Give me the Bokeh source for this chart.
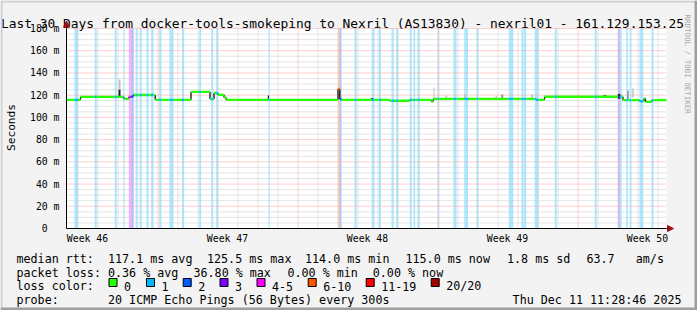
import math
from bisect import bisect_right
from bokeh.plotting import figure
from bokeh.models import Range1d, FixedTicker, Arrow, NormalHead
from bokeh.core.properties import value
from bokeh.embed import file_html
from bokeh.resources import INLINE

# ---------------- data ----------------
# time axis: days since the start of the 30 day window
t_end = 30.0
# median RTT (ms); each value holds from its start time
med_t = [0.0, 0.70, 2.865, 3.115, 3.325, 4.435, 6.225, 7.175, 7.375, 7.575, 7.875, 7.985,
         13.575, 13.665, 13.75, 16.15, 17.15, 18.235, 18.335, 23.475, 23.90,
         27.825, 28.65, 28.875, 28.95, 29.275]
med_v = [115.8, 118.5, 116.7, 118.5, 120.2, 115.8, 123.0, 116.5, 122.0, 120.3, 118.0, 115.8,
         125.5, 116.5, 115.8, 115.0, 115.8, 114.2, 116.7, 115.8, 118.6,
         115.5, 114.6, 117.0, 114.0, 115.5]
# packet loss periods and their loss class (lost pings out of 20)
loss_t0 = [0.400, 1.415, 2.415, 2.840, 3.115, 3.230, 3.460, 3.665, 4.000, 4.230,
           4.630, 5.150, 5.775, 6.630, 7.235, 7.485, 10.100, 13.575, 13.665, 14.400,
           15.265, 15.615, 16.250, 16.485, 17.165, 17.350, 17.565, 18.565, 19.350, 19.890,
           20.500, 22.115, 22.750, 22.880, 23.410, 24.415, 26.415, 27.575, 27.660, 27.985,
           28.160, 28.650, 29.250]
loss_t1 = [0.575, 1.515, 2.515, 2.900, 3.230, 3.365, 3.540, 3.765, 4.100, 4.350,
           4.750, 5.350, 5.880, 6.730, 7.335, 7.585, 10.165, 13.665, 13.750, 14.510,
           15.400, 15.725, 16.365, 16.585, 17.265, 17.435, 17.665, 18.640, 19.500, 20.075,
           20.590, 22.340, 22.860, 22.985, 23.610, 24.515, 26.515, 27.660, 27.760, 28.065,
           28.250, 28.840, 29.350]
loss_cls = [1, 1, 1, 1, 5, 2, 1, 1, 1, 1,
            1, 1, 1, 1, 1, 1, 1, 10, 2, 1,
            1, 1, 1, 1, 1, 1, 1, 1, 1, 1,
            1, 1, 1, 1, 1, 1, 1, 3, 1, 1,
            1, 1, 1]
# ping spread ("smoke") sticking out of the median line; density 1 = sparse .. 3 = dense
smoke_t0 = [2.60, 2.60, 10.065, 15.235, 18.35, 18.95, 19.875, 21.45, 21.735, 23.235,
            26.835, 27.565, 28.035, 28.285]
smoke_t1 = [2.70, 2.70, 10.125, 15.335, 18.40, 19.035, 19.975, 21.535, 21.835, 23.335,
            27.0, 27.70, 28.115, 28.365]
smoke_lo = [118.5, 125.0, 116.0, 116.0, 116.7, 117.0, 117.0, 117.0, 117.0, 117.0,
            118.6, 116.7, 115.0, 118.0]
smoke_hi = [125.0, 134.0, 119.7, 117.5, 127.0, 119.7, 121.0, 119.0, 120.5, 120.5,
            120.0, 121.0, 124.0, 126.0]
smoke_den = [3, 1, 3, 3, 1, 1, 1, 1, 2, 1, 3, 3, 2, 1]

week_ticks = [1.05, 8.05, 15.05, 22.05, 29.05]
week_labels = ["Week 46", "Week 47", "Week 48", "Week 49", "Week 50"]
week_lines = [4.575, 11.575, 18.575, 25.575]
day_lines = [0.575, 1.575, 2.575, 3.575, 5.575, 6.575, 7.575, 8.575, 9.575, 10.575,
             12.575, 13.575, 14.575, 15.575, 16.575, 17.575, 19.575, 20.575, 21.575,
             22.575, 23.575, 24.575, 26.575, 27.575, 28.575, 29.575]
y_ticks = [0, 20, 40, 60, 80, 100, 120, 140, 160, 180]
y_labels = ["0\u00a0\u00a0", "20 m", "40 m", "60 m", "80 m", "100 m", "120 m", "140 m",
            "160 m", "180 m"]
y_minor = [v for v in range(5, 180, 5) if v % 20]

title_text = "Last 30 Days from docker-tools-smokeping to Nexril (AS13830) - nexril01 - 161.129.153.25"
y_title = "Seconds"
watermark = "RRDTOOL / TOBI OETIKER"
row1 = ["median rtt:", "117.1 ms avg", "125.5 ms max", "114.0 ms min", "115.0 ms now",
        "1.8 ms sd", "63.7", "am/s"]
row2 = ["packet loss:", "0.36 % avg", "36.80 % max", "0.00 % min", "0.00 % now"]
row3_head = "loss color:"
legend_cls = [0, 1, 2, 3, 5, 10, 19, 20]
legend_txt = ["0", "1", "2", "3", "4-5", "6-10", "11-19", "20/20"]
row4 = ["probe:", "20 ICMP Echo Pings (56 Bytes) every 300s"]
stamp = "Thu Dec 11 11:28:46 2025"

# ---------------- styling / layout ----------------
LOSS_COLOR = {0: "#26ff00", 1: "#00b8ff", 2: "#0059ff", 3: "#7e00ff", 5: "#ff00ff",
              10: "#ff5500", 19: "#ff0000", 20: "#a00000"}
SMOKE_COLOR = {1: "#c4c4c4", 2: "#909090", 3: "#1e1e1e"}
MGRID = "#ff9c9c"
GRID = "#cacaca"
MONO = "DejaVu Sans Mono"
W, H = 697, 310
X0, Y0 = 66, 228            # canvas pixel of (day 0, 0 ms)
PX_DAY, MS_PX = 20.0, 0.9   # 600 px for 30 days, 200 px for 180 ms

p = figure(width=W, height=H, output_backend="svg", toolbar_location=None, min_border=0,
           x_range=Range1d(-X0 / PX_DAY, (W - X0) / PX_DAY),
           y_range=Range1d(-(H - Y0) * MS_PX, Y0 * MS_PX))
p.extra_x_ranges = {"px": Range1d(0, W)}
p.extra_y_ranges = {"py": Range1d(H, 0)}
p.title.visible = False
p.background_fill_color = "#f3f3f3"
p.border_fill_color = "#f3f3f3"
p.outline_line_color = None
p.xgrid.visible = False
p.ygrid.visible = False

# white canvas of the graph
p.quad(left=0, right=t_end, bottom=0, top=180, fill_color="white", line_color=None,
       level="image")

# loss bands over the whole height
p.quad(left=loss_t0, right=loss_t1, bottom=0, top=180,
       fill_color=[LOSS_COLOR[c] for c in loss_cls], fill_alpha=0.33,
       line_color=None, level="underlay")

# grid (dotted), bounded to the graph canvas
p.segment(x0=day_lines, x1=day_lines, y0=0, y1=180, line_color=GRID, line_dash="1 1")
p.segment(x0=0, x1=t_end, y0=y_minor, y1=y_minor, line_color=GRID, line_dash="1 1")
p.segment(x0=week_lines, x1=week_lines, y0=0, y1=180, line_color=MGRID, line_dash="1 1")
p.segment(x0=0, x1=t_end, y0=y_ticks[1:], y1=y_ticks[1:], line_color=MGRID, line_dash="1 1")

# smoke
p.quad(left=smoke_t0, right=smoke_t1, bottom=smoke_lo, top=smoke_hi,
       fill_color=[SMOKE_COLOR[d] for d in smoke_den], line_color=None)

# median: black risers + loss coloured levels
p.segment(x0=med_t[1:], x1=med_t[1:], y0=med_v[:-1], y1=med_v[1:],
          line_color="black", line_width=1.2)

def loss_at(t):
    for a, b, c in zip(loss_t0, loss_t1, loss_cls):
        if a <= t < b:
            return c
    return 0

edges = sorted(set(med_t + loss_t0 + loss_t1 + [t_end]))
sx0, sx1, sy, sc = [], [], [], []
for a, b in zip(edges[:-1], edges[1:]):
    m = 0.5 * (a + b)
    sx0.append(a); sx1.append(b)
    sy.append(med_v[bisect_right(med_t, m) - 1])
    sc.append(LOSS_COLOR[loss_at(m)])
p.segment(x0=sx0, x1=sx1, y0=sy, y1=sy, line_color=sc, line_width=2.4, line_cap="butt")

# axes drawn at the graph origin
xa, ya = p.xaxis[0], p.yaxis[0]
xa.fixed_location = 0
ya.fixed_location = 0
xa.bounds = (0, t_end)
ya.bounds = (0, 180)
xa.ticker = FixedTicker(ticks=week_ticks)
xa.major_label_overrides = dict(zip(week_ticks, week_labels))
ya.ticker = FixedTicker(ticks=y_ticks)
ya.major_label_overrides = dict(zip(y_ticks, y_labels))
for ax in (xa, ya):
    ax.axis_line_color = "black"
    ax.axis_line_width = 1
    ax.major_tick_in = 0
    ax.major_tick_out = 0
    ax.minor_tick_in = 0
    ax.minor_tick_out = 0
    ax.major_label_text_font = MONO
    ax.major_label_text_font_size = "9.8px"
    ax.major_label_text_color = "black"
xa.major_label_standoff = 4
ya.major_label_standoff = 7

# axis arrows
head = dict(size=6, fill_color="#a01010", line_color="#a01010")
p.add_layout(Arrow(x_start=t_end, y_start=0, x_end=t_end + 0.35, y_end=0,
                   line_color="black", line_width=1, end=NormalHead(**head)))
p.add_layout(Arrow(x_start=0, y_start=180, x_end=0, y_end=186.6,
                   line_color="black", line_width=1, end=NormalHead(**head)))

# ---------------- texts and legend, in canvas pixels ----------------
PXR = dict(x_range_name="px", y_range_name="py")

def put(texts, xs, ys, size="11.7px", align="left", baseline="alphabetic", angle=0.0,
        color="black"):
    p.text(x=xs, y=ys, text=texts, text_font=value(MONO), text_font_size=value(size),
           text_align=align, text_baseline=baseline, angle=angle, text_color=color, **PXR)

put([title_text], [0.5], [23.3], size="12.9px")
put([y_title], [11], [127], size="11.2px", align="center", baseline="middle",
    angle=math.pi / 2)
put([watermark], [687.3], [14], size="7.5px", baseline="middle", angle=-math.pi / 2,
    color="#a8a8a8")

r1x = [16, 107.5, 206.5, 304.5, 405, 506.5, 586, 635.3]
put(row1, r1x, [258.2] * len(row1))
r2x = [16, 107.5, 193, 287, 372.3]
put(row2, r2x, [272.0] * len(row2))
bx = [108.5, 146, 182.7, 219.5, 256.5, 307.7, 365.7, 430.7]
put([row3_head] + legend_txt, [16] + [x + 15 for x in bx], [285.8] * 9)
p.quad(left=bx, right=[x + 8 for x in bx], top=278, bottom=286,
       fill_color=[LOSS_COLOR[c] for c in legend_cls], line_color="black", line_width=1,
       **PXR)
put(row4, [16, 107.5], [299.5, 299.5])
put([stamp], [681], [299.5], align="right")

# image frame (3d border)
p.quad(left=[0, 0], right=[W, 2], top=[0, 0], bottom=[2, H], fill_color="#d0d0d0",
       line_color=None, **PXR)
p.quad(left=[0, W - 3], right=[W, W], top=[H - 3, 0], bottom=[H, H], fill_color="#9e9e9e",
       line_color=None, **PXR)

open("out.html", "w").write(file_html(p, INLINE))
